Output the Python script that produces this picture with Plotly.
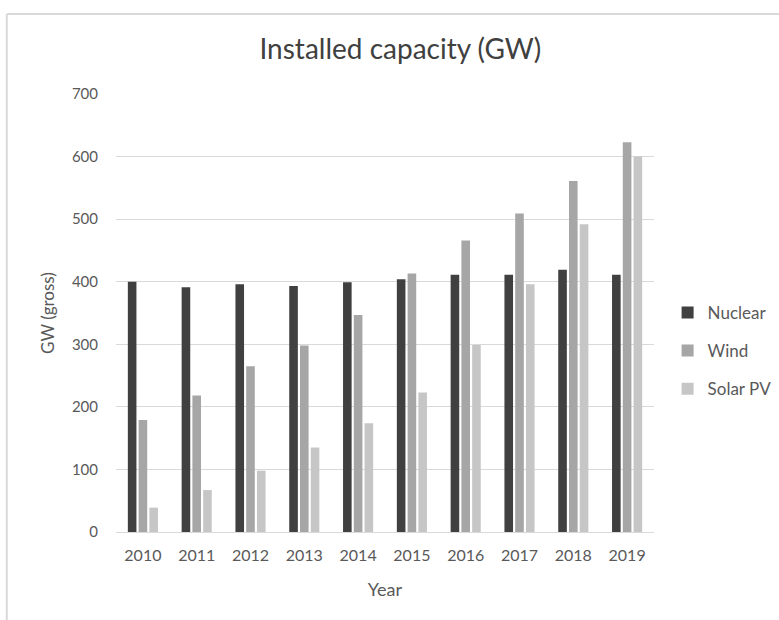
import plotly.graph_objects as go

# Installed capacity by year (GW, gross)
years = ["2010", "2011", "2012", "2013", "2014", "2015", "2016", "2017", "2018", "2019"]
nuclear = [400, 391, 396, 393, 399, 404, 411, 411, 419, 411]
wind = [179, 218, 265, 298, 347, 413, 466, 509, 561, 623]
solar_pv = [39, 67, 98, 135, 174, 223, 299, 396, 492, 600]

y_ticks = [0, 100, 200, 300, 400, 500, 600, 700]

FONT = "Lato, 'Open Sans', sans-serif"
TEXT = "#595959"

fig = go.Figure()
series = [
    ("Nuclear", nuclear, "#404040"),
    ("Wind", wind, "#a6a6a6"),
    ("Solar PV", solar_pv, "#c6c6c6"),
]
for name, vals, color in series:
    fig.add_trace(go.Bar(
        name=name, x=years, y=vals,
        marker=dict(color=color, line=dict(width=0)),
        legendgroup=name,
    ))

fig.update_layout(
    width=779, height=620,
    margin=dict(l=116, r=125, t=94, b=88),
    paper_bgcolor="white", plot_bgcolor="white",
    barmode="group", bargap=0.4, bargroupgap=0.2,
    font=dict(family=FONT, color=TEXT, size=15),
    title=dict(
        text="Installed capacity (GW)",
        x=0.514, xanchor="center", y=0.92, yanchor="middle",
        font=dict(family=FONT, size=28, color="#404040"),
    ),
    xaxis=dict(
        title=dict(text="Year", standoff=20, font=dict(size=18, color=TEXT)),
        showgrid=False, showline=False, ticks="",
        tickfont=dict(size=16, color=TEXT),
        ticklabelstandoff=12,
    ),
    yaxis=dict(
        title=dict(text="GW (gross)", standoff=12, font=dict(size=17, color=TEXT)),
        range=[0, 700], tickvals=y_ticks,
        showgrid=True, gridcolor="#d9d9d9", gridwidth=1,
        zeroline=True, zerolinecolor="#d9d9d9", zerolinewidth=1,
        showline=False, ticks="",
        tickfont=dict(size=15, color=TEXT),
        ticklabelstandoff=17,
    ),
    legend=dict(
        xref="container", yref="container",
        x=0.857, xanchor="left", y=0.434, yanchor="middle",
        font=dict(size=17, color=TEXT),
        traceorder="grouped", tracegroupgap=13,
        itemwidth=30, bgcolor="rgba(0,0,0,0)",
    ),
    shapes=[
        # light frame around the chart area (top and left edges)
        dict(type="line", xref="paper", yref="paper",
             x0=-0.203, x1=1.3, y0=1.1826, y1=1.1826,
             line=dict(color="#d9d9d9", width=2)),
        dict(type="line", xref="paper", yref="paper",
             x0=-0.203, x1=-0.203, y0=1.1826, y1=-0.25,
             line=dict(color="#d9d9d9", width=2)),
    ],
)

fig.write_html("out.html")
